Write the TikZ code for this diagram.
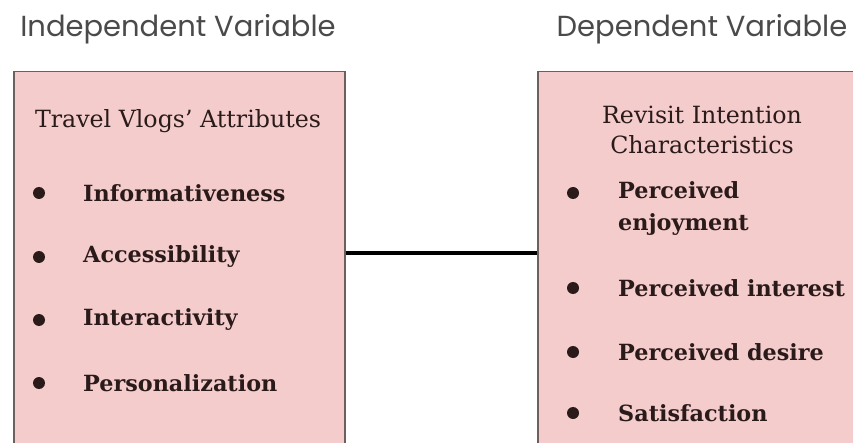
\documentclass[tikz,border=0pt]{standalone}
\usepackage{fontspec}
\setmainfont{DejaVu Serif}
\newfontfamily\headfont{Poppins}
\definecolor{boxpink}{HTML}{F4CCCC}
\definecolor{boxline}{HTML}{6E5F5F}
\definecolor{inktext}{HTML}{2B1A1A}
\definecolor{headgray}{HTML}{4A4A4A}
\begin{document}
\begin{tikzpicture}[x=1pt,y=-1pt,
  vbox/.style={draw=boxline,line width=1.5pt,fill=boxpink,anchor=north west,inner sep=0pt},
  head/.style={font=\headfont\fontsize{29}{33}\selectfont,text=headgray},
  boxtitle/.style={font=\fontsize{23.7}{30}\selectfont,text=inktext,align=center},
  item/.style={font=\bfseries\fontsize{22.3}{32}\selectfont,text=inktext,anchor=west,align=left,inner sep=0pt},
  dot/.style={circle,fill=inktext,inner sep=0pt,minimum size=12pt}]
\useasboundingbox (0,0) rectangle (853,443);
\clip (0,0) rectangle (853,443);
\node[head] (ivhead) at (178,29) {Independent Variable};
\node[head] (dvhead) at (702,29) {Dependent Variable};

\node[vbox,minimum width=331pt,minimum height=420pt] (ivbox) at (13,71) {};
\node[vbox,minimum width=340pt,minimum height=420pt] (dvbox) at (537,71) {};

\node[boxtitle] (ivtitle) at (178,121) {Travel Vlogs' Attributes};
\node[dot] (ivdot1) at (39,193) {};
\node[item] (informativeness) at (83,193) {Informativeness};
\node[dot] (ivdot2) at (39,257) {};
\node[item] (accessibility) at (83,257) {Accessibility};
\node[dot] (ivdot3) at (39,320) {};
\node[item] (interactivity) at (83,320) {Interactivity};
\node[dot] (ivdot4) at (39,383) {};
\node[item] (personalization) at (83,383) {Personalization};

\node[boxtitle] (dvtitle) at (702,130) {Revisit Intention\\Characteristics};
\node[dot] (dvdot1) at (573,193) {};
\node[item] (enjoyment) at (618,209) {Perceived\\enjoyment};
\node[dot] (dvdot2) at (573,288) {};
\node[item] (interest) at (618,288) {Perceived interest};
\node[dot] (dvdot3) at (573,352) {};
\node[item] (desire) at (618,352) {Perceived desire};
\node[dot] (dvdot4) at (573,413) {};
\node[item] (satisfaction) at (618,413) {Satisfaction};

\coordinate (linkref) at (0,253);
\draw[line width=4pt] (ivbox.east |- linkref) -- (dvbox.west |- linkref);
\end{tikzpicture}
\end{document}
